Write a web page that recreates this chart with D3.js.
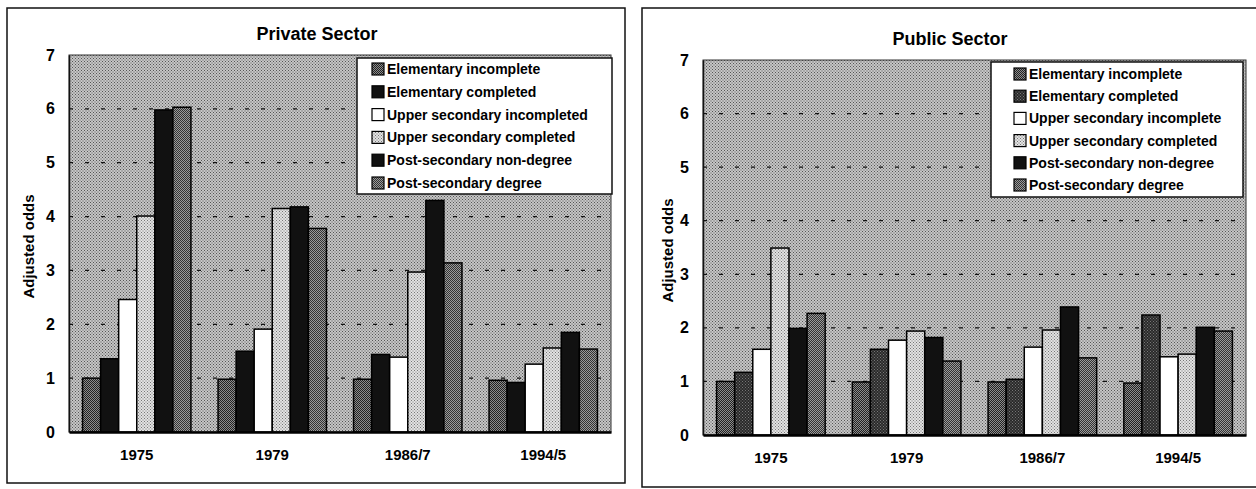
<!DOCTYPE html>
<html>
<head>
<meta charset="utf-8">
<script src="https://cdn.jsdelivr.net/npm/d3@7"></script>
<style>
  body { margin: 0; background: #fff; }
  svg { display: block; font-family: "Liberation Sans", Arial, sans-serif; }
</style>
</head>
<body>
<div class="container"></div>
<script>
const WIDTH = 1256;
const HEIGHT = 489;

// categories
const years = ["1975", "1979", "1986/7", "1994/5"];
const yTicks = [0, 1, 2, 3, 4, 5, 6, 7];

// legend labels (as printed)
const privateNames = [
    "Elementary incomplete",
    "Elementary completed",
    "Upper secondary incompleted",
    "Upper secondary completed",
    "Post-secondary non-degree",
    "Post-secondary degree"
];
const publicNames = [
    "Elementary incomplete",
    "Elementary completed",
    "Upper secondary incomplete",
    "Upper secondary completed",
    "Post-secondary non-degree",
    "Post-secondary degree"
];

// private sector, one array per series, values per year
const privElemInc   = [1.00, 0.98, 0.98, 0.96];
const privElemComp  = [1.36, 1.50, 1.44, 0.92];
const privUpperInc  = [2.46, 1.91, 1.39, 1.26];
const privUpperComp = [4.01, 4.15, 2.97, 1.56];
const privPostNon   = [5.98, 4.18, 4.30, 1.85];
const privPostDeg   = [6.03, 3.78, 3.14, 1.54];

// public sector
const pubElemInc   = [1.00, 0.99, 0.99, 0.97];
const pubElemComp  = [1.17, 1.60, 1.04, 2.24];
const pubUpperInc  = [1.60, 1.77, 1.64, 1.46];
const pubUpperComp = [3.49, 1.94, 1.96, 1.51];
const pubPostNon   = [1.99, 1.82, 2.39, 2.01];
const pubPostDeg   = [2.27, 1.38, 1.44, 1.94];

var translate = function(x, y) {
    return `translate(${x},${y})`;
};

var addPatterns = function(svg) {
    var defs = svg.append('defs');
    var mk = function(id, base, dot, size) {
        var p = defs.append('pattern')
            .attr('id', id)
            .attr('patternUnits', 'userSpaceOnUse')
            .attr('width', size).attr('height', size);
        p.append('rect').attr('width', size).attr('height', size).attr('fill', base);
        p.append('rect').attr('width', 1).attr('height', 1).attr('fill', dot);
        p.append('rect').attr('x', size / 2).attr('y', size / 2)
            .attr('width', 1).attr('height', 1).attr('fill', dot);
    };
    mk('bg', '#c6c6c6', '#555', 3);
    mk('darkDots', '#8c8c8c', '#222', 2);
    mk('midDots', '#9a9a9a', '#333', 2);
    mk('lightGrid', '#e2e2e2', '#777', 3);
    mk('nearBlack', '#2a2a2a', '#777', 3);
};

var drawPanel = function(svg, cfg) {
    var p = cfg.plot;

    // outer frame
    svg.append('rect')
        .attr('x', cfg.frame[0]).attr('y', cfg.frame[1])
        .attr('width', cfg.frame[2]).attr('height', cfg.frame[3])
        .attr('fill', '#fff').attr('stroke', '#111').attr('stroke-width', 1.5);

    svg.append('text')
        .attr('x', cfg.titleX).attr('y', cfg.titleY)
        .attr('text-anchor', 'middle')
        .style('font-size', '18px').style('font-weight', 'bold')
        .text(cfg.title);

    let xScale = d3.scaleBand()
        .domain(years)
        .range([0, p.w])
        .paddingInner(0.2)
        .paddingOuter(0.1);

    let inner = d3.scaleBand()
        .domain(d3.range(cfg.series.length))
        .range([0, xScale.bandwidth()]);

    let yScale = d3.scaleLinear()
        .domain([0, 7])
        .range([p.h, 0]);

    var g = svg.append('g').attr('transform', translate(p.x, p.y));

    g.append('rect')
        .attr('width', p.w).attr('height', p.h)
        .attr('fill', 'url(#bg)')
        .attr('stroke', '#333').attr('stroke-width', 1);

    // dashed gridlines
    g.selectAll('.grid')
        .data(yTicks.filter(d => d > 0 && d < 7))
        .enter().append('line')
        .attr('x1', 0).attr('x2', p.w)
        .attr('y1', d => yScale(d)).attr('y2', d => yScale(d))
        .attr('stroke', '#111').attr('stroke-width', 1.3)
        .attr('stroke-dasharray', '4,12');

    // bars
    cfg.series.forEach(function(vals, si) {
        g.selectAll('.bar' + si)
            .data(vals)
            .enter().append('rect')
            .attr('x', (d, i) => xScale(years[i]) + inner(si))
            .attr('y', d => yScale(d))
            .attr('width', inner.bandwidth())
            .attr('height', d => p.h - yScale(d))
            .attr('fill', cfg.fills[si])
            .attr('stroke', '#000').attr('stroke-width', 1.5);
    });

    // axes
    let yAxis = d3.axisLeft(yScale).tickValues(yTicks).tickFormat(d3.format('d'))
        .tickSize(0).tickPadding(14);
    let ya = g.append('g').call(yAxis);
    ya.select('.domain').attr('stroke', '#111').attr('stroke-width', 1.5);
    ya.selectAll('text')
        .style('font-size', '16px').style('font-weight', 'bold')
        .style('font-family', '"Liberation Sans", Arial, sans-serif');

    let xAxis = d3.axisBottom(xScale).tickSize(0).tickPadding(17);
    let xa = g.append('g').attr('transform', translate(0, p.h)).call(xAxis);
    xa.select('.domain').attr('stroke', '#000').attr('stroke-width', 2.5);
    xa.selectAll('text')
        .style('font-size', '15px').style('font-weight', 'bold')
        .style('font-family', '"Liberation Sans", Arial, sans-serif');

    svg.append('text')
        .attr('transform', translate(cfg.yLabelX, p.y + p.h / 2 + 3) + ' rotate(-90)')
        .attr('text-anchor', 'middle')
        .style('font-size', '15px').style('font-weight', 'bold')
        .text('Adjusted odds');

    // legend
    var L = cfg.legend;
    var lg = svg.append('g');
    lg.append('rect')
        .attr('x', L.x).attr('y', L.y).attr('width', L.w).attr('height', L.h)
        .attr('fill', '#fff').attr('stroke', '#111').attr('stroke-width', 1.5);
    cfg.names.forEach(function(name, i) {
        var cy = L.row0 + i * L.step;
        lg.append('rect')
            .attr('x', L.sx).attr('y', cy - 6)
            .attr('width', 12).attr('height', 12)
            .attr('fill', cfg.fills[i])
            .attr('stroke', '#000').attr('stroke-width', 1.2);
        lg.append('text')
            .attr('x', L.tx).attr('y', cy + 5)
            .style('font-size', '14px').style('font-weight', 'bold')
            .text(name);
    });
};

var fillLayout = function() {
    var svg = d3.select('.container').append('svg')
        .attr('width', WIDTH)
        .attr('height', HEIGHT);

    addPatterns(svg);

    drawPanel(svg, {
        title: 'Private Sector',
        frame: [7, 8, 618, 475],
        plot: { x: 69, y: 55, w: 542, h: 377 },
        titleX: 317, titleY: 40,
        yLabelX: 34,
        names: privateNames,
        series: [privElemInc, privElemComp, privUpperInc, privUpperComp, privPostNon, privPostDeg],
        fills: ['url(#darkDots)', '#111', '#fff', 'url(#lightGrid)', '#111', 'url(#midDots)'],
        legend: { x: 357, y: 58, w: 255, h: 136, row0: 69, step: 22.8, sx: 372, tx: 387 }
    });

    drawPanel(svg, {
        title: 'Public Sector',
        frame: [642, 8, 640, 479],
        plot: { x: 703, y: 60, w: 543, h: 375 },
        titleX: 950, titleY: 45,
        yLabelX: 673,
        names: publicNames,
        series: [pubElemInc, pubElemComp, pubUpperInc, pubUpperComp, pubPostNon, pubPostDeg],
        fills: ['url(#darkDots)', 'url(#nearBlack)', '#fff', 'url(#lightGrid)', '#111', 'url(#midDots)'],
        legend: { x: 991, y: 62, w: 252, h: 135, row0: 74, step: 22.2, sx: 1014, tx: 1029 }
    });
};
window.onload = fillLayout;
</script>
</body>
</html>
